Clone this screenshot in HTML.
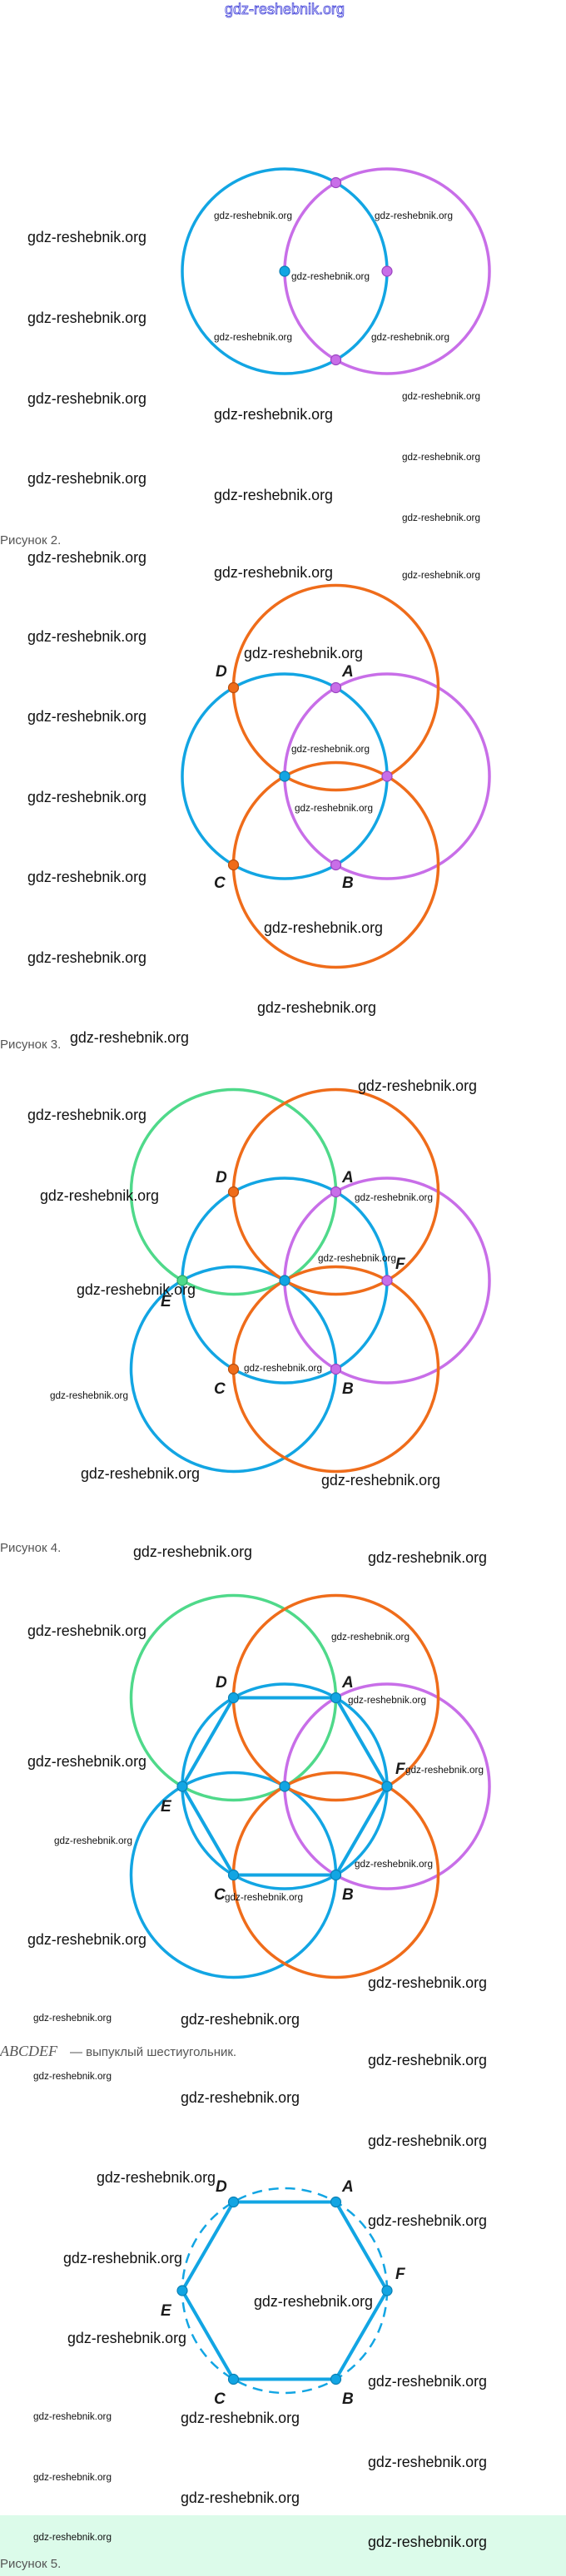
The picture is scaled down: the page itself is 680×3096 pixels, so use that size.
<!DOCTYPE html>
<html><head><meta charset="utf-8">
<style>
html,body{margin:0;padding:0;background:#fff;}
svg{display:block;}
.L{font-family:"Liberation Sans",sans-serif;font-size:18px;fill:#111;}
.S{font-family:"Liberation Sans",sans-serif;font-size:11.5px;fill:#111;}
.lab{font-family:"Liberation Sans",sans-serif;font-size:19px;font-weight:bold;font-style:italic;fill:#1a1a1a;}
.cap{font-family:"Liberation Sans",sans-serif;font-size:15px;fill:#555;}
</style></head><body>
<svg width="680" height="3096" viewBox="0 0 680 3096" xmlns="http://www.w3.org/2000/svg">
<rect x="0" y="3023" width="680" height="73" fill="#dcfbea"/>
<g fill="none" stroke-width="3.5">
<!-- fig1 -->
<circle cx="342" cy="326" r="123" stroke="#12a5e3"/>
<circle cx="465" cy="326" r="123" stroke="#c86ee8"/>
<!-- fig2 -->
<circle cx="342" cy="933" r="123" stroke="#12a5e3"/>
<circle cx="465" cy="933" r="123" stroke="#c86ee8"/>
<circle cx="403.5" cy="826.5" r="123" stroke="#ef6c1a"/>
<circle cx="403.5" cy="1039.5" r="123" stroke="#ef6c1a"/>
<!-- fig3 -->
<circle cx="280.5" cy="1432.5" r="123" stroke="#4fd98a"/>
<circle cx="280.5" cy="1645.5" r="123" stroke="#12a5e3"/>
<circle cx="342" cy="1539" r="123" stroke="#12a5e3"/>
<circle cx="465" cy="1539" r="123" stroke="#c86ee8"/>
<circle cx="403.5" cy="1432.5" r="123" stroke="#ef6c1a"/>
<circle cx="403.5" cy="1645.5" r="123" stroke="#ef6c1a"/>
<!-- fig4 -->
<circle cx="280.5" cy="2040.5" r="123" stroke="#4fd98a"/>
<circle cx="280.5" cy="2253.5" r="123" stroke="#12a5e3"/>
<circle cx="465" cy="2147" r="123" stroke="#c86ee8"/>
<circle cx="403.5" cy="2040.5" r="123" stroke="#ef6c1a"/>
<circle cx="403.5" cy="2253.5" r="123" stroke="#ef6c1a"/>
<circle cx="342" cy="2147" r="123" stroke="#12a5e3"/>
<polygon points="280.5,2040.5 403.5,2040.5 465,2147 403.5,2253.5 280.5,2253.5 219,2147" stroke="#12a5e3" stroke-width="4"/>
<!-- fig5 -->
<circle cx="342" cy="2753" r="123" stroke="#12a5e3" stroke-width="2.5" stroke-dasharray="12,8"/>
<polygon points="280.5,2646.5 403.5,2646.5 465,2753 403.5,2859.5 280.5,2859.5 219,2753" stroke="#12a5e3" stroke-width="4"/>
</g>
<g stroke-width="1.2">
<!-- fig1 dots -->
<circle cx="342" cy="326" r="6" fill="#12a5e3" stroke="#0a7fb3"/>
<circle cx="465" cy="326" r="6" fill="#c86ee8" stroke="#9a44c0"/>
<circle cx="403.5" cy="219.5" r="6" fill="#c86ee8" stroke="#9a44c0"/>
<circle cx="403.5" cy="432.5" r="6" fill="#c86ee8" stroke="#9a44c0"/>
<!-- fig2 dots -->
<circle cx="342" cy="933" r="6" fill="#12a5e3" stroke="#0a7fb3"/>
<circle cx="465" cy="933" r="6" fill="#c86ee8" stroke="#9a44c0"/>
<circle cx="403.5" cy="826.5" r="6" fill="#c86ee8" stroke="#9a44c0"/>
<circle cx="403.5" cy="1039.5" r="6" fill="#c86ee8" stroke="#9a44c0"/>
<circle cx="280.5" cy="826.5" r="6" fill="#ef6c1a" stroke="#b84d0c"/>
<circle cx="280.5" cy="1039.5" r="6" fill="#ef6c1a" stroke="#b84d0c"/>
<!-- fig3 dots -->
<circle cx="342" cy="1539" r="6" fill="#12a5e3" stroke="#0a7fb3"/>
<circle cx="465" cy="1539" r="6" fill="#c86ee8" stroke="#9a44c0"/>
<circle cx="403.5" cy="1432.5" r="6" fill="#c86ee8" stroke="#9a44c0"/>
<circle cx="403.5" cy="1645.5" r="6" fill="#c86ee8" stroke="#9a44c0"/>
<circle cx="280.5" cy="1432.5" r="6" fill="#ef6c1a" stroke="#b84d0c"/>
<circle cx="280.5" cy="1645.5" r="6" fill="#ef6c1a" stroke="#b84d0c"/>
<circle cx="219" cy="1539" r="6" fill="#4fd98a" stroke="#2aa862"/>
<!-- fig4 dots -->
<g fill="#12a5e3" stroke="#0a7fb3">
<circle cx="342" cy="2147" r="6"/><circle cx="465" cy="2147" r="6"/><circle cx="219" cy="2147" r="6"/>
<circle cx="280.5" cy="2040.5" r="6"/><circle cx="403.5" cy="2040.5" r="6"/>
<circle cx="280.5" cy="2253.5" r="6"/><circle cx="403.5" cy="2253.5" r="6"/>
<!-- fig5 dots -->
<circle cx="465" cy="2753" r="6"/><circle cx="219" cy="2753" r="6"/>
<circle cx="280.5" cy="2646.5" r="6"/><circle cx="403.5" cy="2646.5" r="6"/>
<circle cx="280.5" cy="2859.5" r="6"/><circle cx="403.5" cy="2859.5" r="6"/>
</g>
</g>

<!-- header -->
<text x="270" y="17" font-family="Liberation Sans,sans-serif" font-size="18" fill="#fff" stroke="#3a3ad8" stroke-width="0.8" textLength="144" lengthAdjust="spacingAndGlyphs">gdz-reshebnik.org</text>

<!-- labels -->
<g class="lab">
<text x="259" y="813">D</text><text x="411" y="813">A</text><text x="257" y="1067">C</text><text x="411" y="1067">B</text>
<text x="259" y="1421">D</text><text x="411" y="1421">A</text><text x="475" y="1525">F</text><text x="193" y="1570">E</text><text x="257" y="1675">C</text><text x="411" y="1675">B</text>
<text x="259" y="2028">D</text><text x="411" y="2028">A</text><text x="475" y="2132">F</text><text x="193" y="2177">E</text><text x="257" y="2283">C</text><text x="411" y="2283">B</text>
<text x="259" y="2634">D</text><text x="411" y="2634">A</text><text x="475" y="2739">F</text><text x="193" y="2783">E</text><text x="257" y="2889">C</text><text x="411" y="2889">B</text>
</g>

<!-- captions -->
<text class="cap" x="0" y="654">Рисунок 2.</text>
<text class="cap" x="0" y="1260">Рисунок 3.</text>
<text class="cap" x="0" y="1865">Рисунок 4.</text>
<text x="0" y="2471" font-family="Liberation Serif,serif" font-style="italic" font-size="18" fill="#555">ABCDEF</text>
<text class="cap" x="84" y="2471" font-size="16">— выпуклый шестиугольник.</text>
<text class="cap" x="0" y="3086" font-size="17">Рисунок 5.</text>

<!-- large watermarks -->
<g class="L">
<text x="33" y="291" textLength="143" lengthAdjust="spacingAndGlyphs">gdz-reshebnik.org</text>
<text x="33" y="388" textLength="143" lengthAdjust="spacingAndGlyphs">gdz-reshebnik.org</text>
<text x="33" y="485" textLength="143" lengthAdjust="spacingAndGlyphs">gdz-reshebnik.org</text>
<text x="33" y="581" textLength="143" lengthAdjust="spacingAndGlyphs">gdz-reshebnik.org</text>
<text x="257" y="504" textLength="143" lengthAdjust="spacingAndGlyphs">gdz-reshebnik.org</text>
<text x="257" y="601" textLength="143" lengthAdjust="spacingAndGlyphs">gdz-reshebnik.org</text>
<text x="33" y="676" textLength="143" lengthAdjust="spacingAndGlyphs">gdz-reshebnik.org</text>
<text x="33" y="771" textLength="143" lengthAdjust="spacingAndGlyphs">gdz-reshebnik.org</text>
<text x="33" y="867" textLength="143" lengthAdjust="spacingAndGlyphs">gdz-reshebnik.org</text>
<text x="33" y="964" textLength="143" lengthAdjust="spacingAndGlyphs">gdz-reshebnik.org</text>
<text x="33" y="1060" textLength="143" lengthAdjust="spacingAndGlyphs">gdz-reshebnik.org</text>
<text x="33" y="1157" textLength="143" lengthAdjust="spacingAndGlyphs">gdz-reshebnik.org</text>
<text x="257" y="694" textLength="143" lengthAdjust="spacingAndGlyphs">gdz-reshebnik.org</text>
<text x="293" y="791" textLength="143" lengthAdjust="spacingAndGlyphs">gdz-reshebnik.org</text>
<text x="317" y="1121" textLength="143" lengthAdjust="spacingAndGlyphs">gdz-reshebnik.org</text>
<text x="309" y="1217" textLength="143" lengthAdjust="spacingAndGlyphs">gdz-reshebnik.org</text>
<text x="84" y="1253" textLength="143" lengthAdjust="spacingAndGlyphs">gdz-reshebnik.org</text>
<text x="430" y="1311" textLength="143" lengthAdjust="spacingAndGlyphs">gdz-reshebnik.org</text>
<text x="33" y="1346" textLength="143" lengthAdjust="spacingAndGlyphs">gdz-reshebnik.org</text>
<text x="48" y="1443" textLength="143" lengthAdjust="spacingAndGlyphs">gdz-reshebnik.org</text>
<text x="92" y="1556" textLength="143" lengthAdjust="spacingAndGlyphs">gdz-reshebnik.org</text>
<text x="97" y="1777" textLength="143" lengthAdjust="spacingAndGlyphs">gdz-reshebnik.org</text>
<text x="386" y="1785" textLength="143" lengthAdjust="spacingAndGlyphs">gdz-reshebnik.org</text>
<text x="160" y="1871" textLength="143" lengthAdjust="spacingAndGlyphs">gdz-reshebnik.org</text>
<text x="442" y="1878" textLength="143" lengthAdjust="spacingAndGlyphs">gdz-reshebnik.org</text>
<text x="33" y="1966" textLength="143" lengthAdjust="spacingAndGlyphs">gdz-reshebnik.org</text>
<text x="33" y="2123" textLength="143" lengthAdjust="spacingAndGlyphs">gdz-reshebnik.org</text>
<text x="33" y="2337" textLength="143" lengthAdjust="spacingAndGlyphs">gdz-reshebnik.org</text>
<text x="442" y="2389" textLength="143" lengthAdjust="spacingAndGlyphs">gdz-reshebnik.org</text>
<text x="217" y="2433" textLength="143" lengthAdjust="spacingAndGlyphs">gdz-reshebnik.org</text>
<text x="442" y="2482" textLength="143" lengthAdjust="spacingAndGlyphs">gdz-reshebnik.org</text>
<text x="217" y="2527" textLength="143" lengthAdjust="spacingAndGlyphs">gdz-reshebnik.org</text>
<text x="442" y="2579" textLength="143" lengthAdjust="spacingAndGlyphs">gdz-reshebnik.org</text>
<text x="116" y="2623" textLength="143" lengthAdjust="spacingAndGlyphs">gdz-reshebnik.org</text>
<text x="442" y="2675" textLength="143" lengthAdjust="spacingAndGlyphs">gdz-reshebnik.org</text>
<text x="76" y="2720" textLength="143" lengthAdjust="spacingAndGlyphs">gdz-reshebnik.org</text>
<text x="305" y="2772" textLength="143" lengthAdjust="spacingAndGlyphs">gdz-reshebnik.org</text>
<text x="81" y="2816" textLength="143" lengthAdjust="spacingAndGlyphs">gdz-reshebnik.org</text>
<text x="442" y="2868" textLength="143" lengthAdjust="spacingAndGlyphs">gdz-reshebnik.org</text>
<text x="217" y="2912" textLength="143" lengthAdjust="spacingAndGlyphs">gdz-reshebnik.org</text>
<text x="442" y="2965" textLength="143" lengthAdjust="spacingAndGlyphs">gdz-reshebnik.org</text>
<text x="217" y="3008" textLength="143" lengthAdjust="spacingAndGlyphs">gdz-reshebnik.org</text>
<text x="442" y="3061" textLength="143" lengthAdjust="spacingAndGlyphs">gdz-reshebnik.org</text>
</g>

<!-- small watermarks -->
<g class="S">
<text x="257" y="263" textLength="94" lengthAdjust="spacingAndGlyphs">gdz-reshebnik.org</text>
<text x="450" y="263" textLength="94" lengthAdjust="spacingAndGlyphs">gdz-reshebnik.org</text>
<text x="350" y="336" textLength="94" lengthAdjust="spacingAndGlyphs">gdz-reshebnik.org</text>
<text x="257" y="409" textLength="94" lengthAdjust="spacingAndGlyphs">gdz-reshebnik.org</text>
<text x="446" y="409" textLength="94" lengthAdjust="spacingAndGlyphs">gdz-reshebnik.org</text>
<text x="483" y="480" textLength="94" lengthAdjust="spacingAndGlyphs">gdz-reshebnik.org</text>
<text x="483" y="553" textLength="94" lengthAdjust="spacingAndGlyphs">gdz-reshebnik.org</text>
<text x="483" y="626" textLength="94" lengthAdjust="spacingAndGlyphs">gdz-reshebnik.org</text>
<text x="483" y="695" textLength="94" lengthAdjust="spacingAndGlyphs">gdz-reshebnik.org</text>
<text x="350" y="904" textLength="94" lengthAdjust="spacingAndGlyphs">gdz-reshebnik.org</text>
<text x="354" y="975" textLength="94" lengthAdjust="spacingAndGlyphs">gdz-reshebnik.org</text>
<text x="426" y="1443" textLength="94" lengthAdjust="spacingAndGlyphs">gdz-reshebnik.org</text>
<text x="382" y="1516" textLength="94" lengthAdjust="spacingAndGlyphs">gdz-reshebnik.org</text>
<text x="293" y="1648" textLength="94" lengthAdjust="spacingAndGlyphs">gdz-reshebnik.org</text>
<text x="60" y="1681" textLength="94" lengthAdjust="spacingAndGlyphs">gdz-reshebnik.org</text>
<text x="398" y="1971" textLength="94" lengthAdjust="spacingAndGlyphs">gdz-reshebnik.org</text>
<text x="418" y="2047" textLength="94" lengthAdjust="spacingAndGlyphs">gdz-reshebnik.org</text>
<text x="487" y="2131" textLength="94" lengthAdjust="spacingAndGlyphs">gdz-reshebnik.org</text>
<text x="65" y="2216" textLength="94" lengthAdjust="spacingAndGlyphs">gdz-reshebnik.org</text>
<text x="426" y="2244" textLength="94" lengthAdjust="spacingAndGlyphs">gdz-reshebnik.org</text>
<text x="270" y="2284" textLength="94" lengthAdjust="spacingAndGlyphs">gdz-reshebnik.org</text>
<text x="40" y="2429" textLength="94" lengthAdjust="spacingAndGlyphs">gdz-reshebnik.org</text>
<text x="40" y="2499" textLength="94" lengthAdjust="spacingAndGlyphs">gdz-reshebnik.org</text>
<text x="40" y="2908" textLength="94" lengthAdjust="spacingAndGlyphs">gdz-reshebnik.org</text>
<text x="40" y="2981" textLength="94" lengthAdjust="spacingAndGlyphs">gdz-reshebnik.org</text>
<text x="40" y="3053" textLength="94" lengthAdjust="spacingAndGlyphs">gdz-reshebnik.org</text>
</g>
</svg>
</body></html>
